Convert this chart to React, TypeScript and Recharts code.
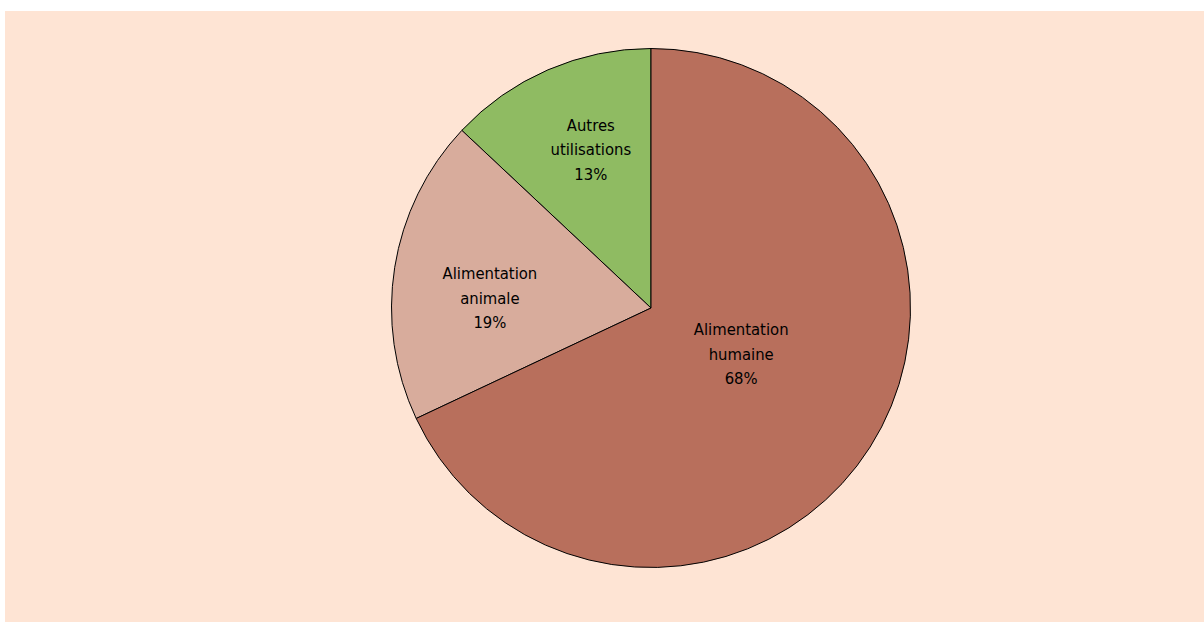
import React from 'react';
import { PieChart, Pie, Cell } from 'recharts';

// Répartition des utilisations (%)
const categories = ['Autres utilisations', 'Alimentation animale', 'Alimentation humaine'];
const labelLines = [['Autres', 'utilisations'], ['Alimentation', 'animale'], ['Alimentation', 'humaine']];
const shares = [13, 19, 68];

const colors = ['#8FBB62', '#D8AC9C', '#B86F5C'];

const data = categories.map((name, i) => ({ name, value: shares[i] }));

const RADIAN = Math.PI / 180;
// placement des étiquettes à la manière du "meilleur ajustement" d'Excel
const labelPlacement = [
  { ratio: 0.653, dAngle: -2.6 },
  { ratio: 0.622, dAngle: 5.4 },
  { ratio: 0.39, dAngle: 5.4 },
];

const renderLabel = (props: any) => {
  const { cx, cy, midAngle, outerRadius, index, value } = props;
  const p = labelPlacement[index];
  const a = (midAngle + p.dAngle) * RADIAN;
  const r = outerRadius * p.ratio;
  const x = cx + r * Math.cos(a);
  const y = cy - r * Math.sin(a);
  const lines = [...labelLines[index], `${value}%`];
  return (
    <text
      x={x}
      y={y}
      textAnchor="middle"
      fill="#000"
      fontSize={16.5}
      fontFamily="'DejaVu Sans Condensed', 'DejaVu Sans', sans-serif"
      style={{ fontStretch: 'condensed' }}
    >
      {lines.map((line, k) => (
        <tspan key={k} x={x} y={y + (k - 1) * 24.5} dy="0.35em">
          {line}
        </tspan>
      ))}
    </text>
  );
};

const App: React.FC = () => {
  return (
    <div style={{ position: 'absolute', left: 5, top: 11, width: 1199, height: 611, background: '#FEE4D4' }}>
      <PieChart width={1199} height={611}>
        <Pie
          data={data}
          dataKey="value"
          nameKey="name"
          cx={641}
          cy={292}
          outerRadius={259.5}
          startAngle={90}
          endAngle={450}
          stroke="#000"
          strokeWidth={1}
          label={renderLabel}
          labelLine={false}
          isAnimationActive={false}
        >
          {data.map((d, i) => (
            <Cell key={d.name} fill={colors[i]} />
          ))}
        </Pie>
      </PieChart>
    </div>
  );
};

export default App;
